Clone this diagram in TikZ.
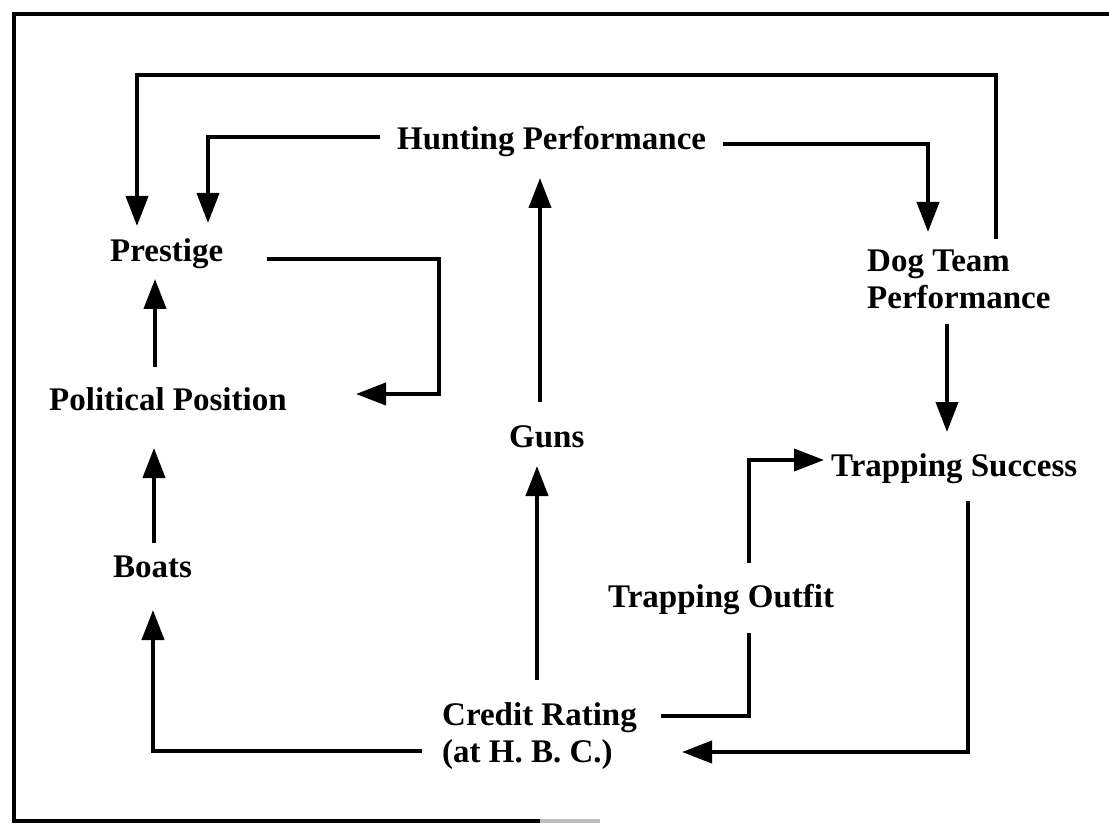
\documentclass[tikz,border=0pt]{standalone}
\usepackage{fontspec}
\setmainfont{Liberation Serif}
\usetikzlibrary{arrows.meta,calc}
\begin{document}
\begin{tikzpicture}[x=1pt,y=-1pt,
  lbl/.style={anchor=base west,inner sep=0pt,font=\fontsize{33}{37}\selectfont\bfseries},
  conn/.style={line width=4pt},
  arr/.style={conn,-{Triangle[length=30pt,width=22pt]}},
  framestyle/.style={line width=3.5pt}]
\useasboundingbox (0,0) rectangle (1109,826);
% frame
\draw[framestyle] (1109,14) -- (14,14) -- (14,821) -- (540,821);
\draw[framestyle,gray!50] (540,821) -- (600,821);
% nodes
\node[lbl] (hunt) at (397,150) {Hunting Performance};
\node[lbl] (prest) at (110,262) {Prestige};
\node[lbl] (dog) at (867,272) {\begin{tabular}[t]{@{}l@{}}Dog Team\\Performance\end{tabular}};
\node[lbl] (pol) at (49,410) {Political Position};
\node[lbl] (guns) at (509,447) {Guns};
\node[lbl] (ts) at (831,476) {Trapping Success};
\node[lbl] (boats) at (113,577) {Boats};
\node[lbl] (to) at (608,607) {Trapping Outfit};
\node[lbl] (cr) at (442,725) {\begin{tabular}[t]{@{}l@{}}Credit Rating\\(at H. B. C.)\end{tabular}};
% connectors
\draw[arr] ($(hunt.base west)+(-17,-13)$) -| ($(prest.base west)+(98,-39)$);
\draw[arr] ($(hunt.base west)+(326,-6)$) -| ($(dog.base west)+(61,-40)$);
\draw[arr] ($(dog.base west)+(129,-33)$) |- ($(prest.base west)+(27,-187)$) -- ($(prest.base west)+(27,-36)$);
\draw[arr] ($(guns.base west)+(31,-45)$) -- ($(hunt.base west)+(143,28)$);
\draw[arr] ($(cr.base west)+(95,-45)$) -- ($(guns.base west)+(28,19)$);
\draw[arr] ($(cr.base west)+(-20,26)$) -| ($(boats.base west)+(40,33)$);
\draw[arr] ($(boats.base west)+(41,-34)$) -- ($(pol.base west)+(105,38)$);
\draw[arr] ($(pol.base west)+(106,-43)$) -- ($(prest.base west)+(45,17)$);
\draw[arr] ($(prest.base west)+(157,-3)$) -| ($(pol.base west)+(390,-16)$) -- ($(pol.base west)+(307,-16)$);
\draw[arr] ($(dog.base west)+(80,52)$) -- ($(ts.base west)+(116,-44)$);
\draw[arr] ($(to.base west)+(141,-44)$) |- ($(ts.base west)+(-7,-16)$);
\draw[conn] ($(cr.base west)+(219,-9)$) -| ($(to.base west)+(141,26)$);
\draw[arr] ($(ts.base west)+(137,25)$) |- ($(cr.base west)+(240,27)$);
\end{tikzpicture}
\end{document}
